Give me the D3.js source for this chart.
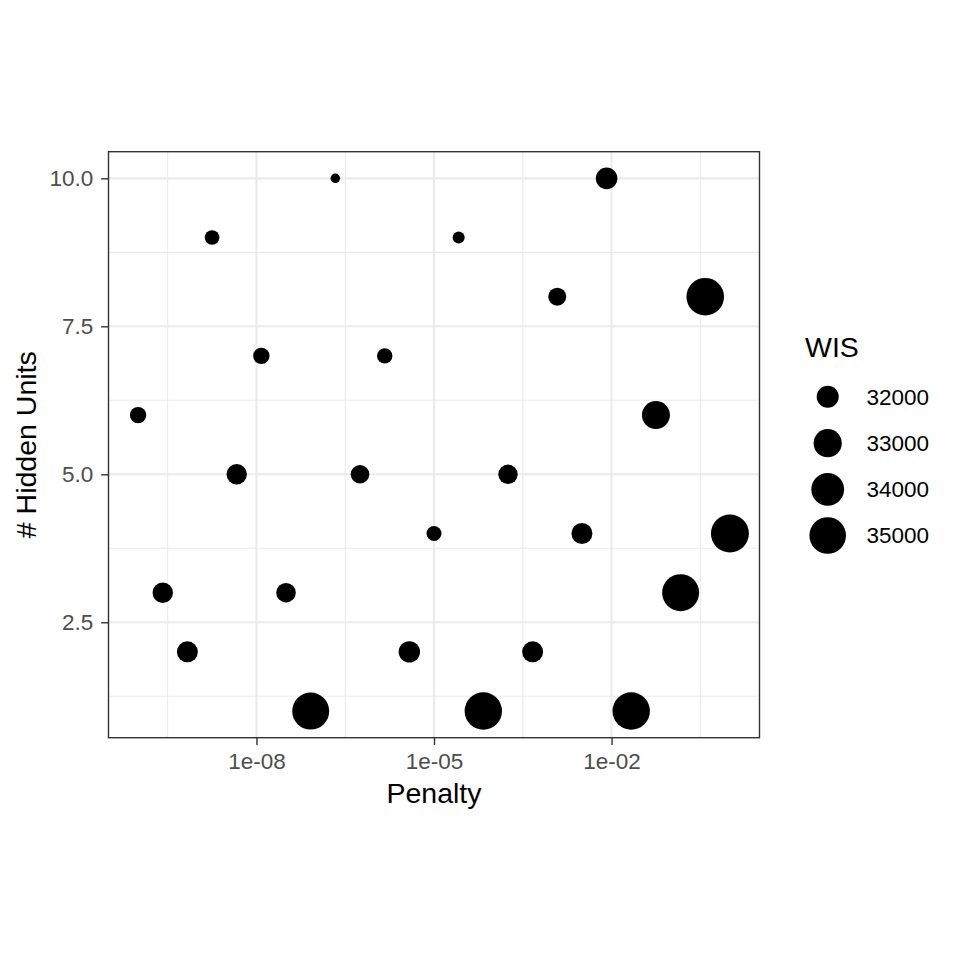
<!DOCTYPE html>
<html>
<head>
<meta charset="utf-8">
<script src="https://cdn.jsdelivr.net/npm/d3@7"></script>
<style>
  html, body { margin: 0; padding: 0; background: #fff; }
  svg { display: block; }
  text { font-family: "Liberation Sans", Arial, Helvetica, sans-serif; }
</style>
</head>
<body>
<svg id="chart" width="960" height="960"></svg>
<script>
// ---- data ----
const penalty = [1e-10, 2.61e-10, 6.81e-10, 1.78e-9, 4.64e-9, 1.21e-8, 3.16e-8, 8.25e-8,
  2.15e-7, 5.62e-7, 1.47e-6, 3.83e-6, 1e-5, 2.61e-5, 6.81e-5, 1.78e-4, 4.64e-4,
  1.21e-3, 3.16e-3, 8.25e-3, 2.15e-2, 5.62e-2, 0.147, 0.383, 1];
const hiddenUnits = [6, 3, 2, 9, 5, 7, 3, 1, 10, 5, 7, 2, 4, 9, 1, 5, 2, 8, 4, 10, 1, 6, 3, 8, 4];
const wis = [31435, 31804, 31875, 31323, 31804, 31435, 31717, 35114, 31187, 31618, 31368, 31923,
  31344, 31220, 35228, 31697, 31875, 31563, 31875, 31948, 35228, 32965, 35114, 35286, 35387];
const xTickValues = [1e-8, 1e-5, 1e-2];
const xTickLabels = ["1e-08", "1e-05", "1e-02"];
const xMinorValues = [Math.pow(10, -9.5), Math.pow(10, -6.5), Math.pow(10, -3.5), Math.pow(10, -0.5)];
const yTickValues = [2.5, 5.0, 7.5, 10.0];
const yTickLabels = ["2.5", "5.0", "7.5", "10.0"];
const yMinorValues = [1.25, 3.75, 6.25, 8.75];
const legendValues = [32000, 33000, 34000, 35000];
const legendLabels = ["32000", "33000", "34000", "35000"];

// ---- layout ----
const svg = d3.select("#chart");
const panel = { left: 108.5, right: 759.5, top: 151.7, bottom: 737.7 };

const x = d3.scaleLog().domain([Math.pow(10, -10.5), Math.pow(10, 0.5)]).range([panel.left, panel.right]);
const y = d3.scaleLinear().domain([0.55, 10.45]).range([panel.bottom, panel.top]);

// ggplot-like area size scale: size 1..6 -> radius
const wMin = d3.min(wis), wMax = d3.max(wis);
const sizeScale = d3.scaleSqrt().domain([0, wMax - wMin]).range([1, 6]).clamp(true);
function radius(v) {
  const s = 1 + 5 * Math.sqrt(Math.max(0, Math.min(1, (v - wMin) / (wMax - wMin))));
  return 2.845 * s + 1.9;
}

const g = svg.append("g");

g.append("rect").attr("x", panel.left).attr("y", panel.top)
  .attr("width", panel.right - panel.left).attr("height", panel.bottom - panel.top)
  .attr("fill", "#fff");

// minor grid
g.selectAll(".xminor").data(xMinorValues).enter().append("line")
  .attr("x1", d => x(d)).attr("x2", d => x(d)).attr("y1", panel.top).attr("y2", panel.bottom)
  .attr("stroke", "#EBEBEB").attr("stroke-width", 1.1);
g.selectAll(".yminor").data(yMinorValues).enter().append("line")
  .attr("y1", d => y(d)).attr("y2", d => y(d)).attr("x1", panel.left).attr("x2", panel.right)
  .attr("stroke", "#EBEBEB").attr("stroke-width", 1.1);
// major grid
g.selectAll(".xmajor").data(xTickValues).enter().append("line")
  .attr("x1", d => x(d)).attr("x2", d => x(d)).attr("y1", panel.top).attr("y2", panel.bottom)
  .attr("stroke", "#EBEBEB").attr("stroke-width", 2.1);
g.selectAll(".ymajor").data(yTickValues).enter().append("line")
  .attr("y1", d => y(d)).attr("y2", d => y(d)).attr("x1", panel.left).attr("x2", panel.right)
  .attr("stroke", "#EBEBEB").attr("stroke-width", 2.1);

// points
g.selectAll(".pt").data(penalty.map((p, i) => ({ p, h: hiddenUnits[i], w: wis[i] })))
  .enter().append("circle")
  .attr("cx", d => x(d.p)).attr("cy", d => y(d.h)).attr("r", d => radius(d.w))
  .attr("fill", "#000");

// panel border
g.append("rect").attr("x", panel.left).attr("y", panel.top)
  .attr("width", panel.right - panel.left).attr("height", panel.bottom - panel.top)
  .attr("fill", "none").attr("stroke", "#333333").attr("stroke-width", 1.4);

// axes
const xAxis = d3.axisBottom(x).tickValues(xTickValues)
  .tickFormat((d, i) => xTickLabels[i]).tickSizeInner(7.3).tickSizeOuter(0).tickPadding(8);
const xg = svg.append("g").attr("transform", `translate(0,${panel.bottom})`).call(xAxis);
xg.select(".domain").remove();
xg.selectAll(".tick line").attr("stroke", "#333333").attr("stroke-width", 1.4);
xg.selectAll(".tick text").attr("fill", "#4D4D4D").attr("font-size", 22.5)
  .attr("font-family", "Liberation Sans, Arial, sans-serif");

const yAxis = d3.axisLeft(y).tickValues(yTickValues)
  .tickFormat((d, i) => yTickLabels[i]).tickSizeInner(7.3).tickSizeOuter(0).tickPadding(8);
const yg = svg.append("g").attr("transform", `translate(${panel.left},0)`).call(yAxis);
yg.select(".domain").remove();
yg.selectAll(".tick line").attr("stroke", "#333333").attr("stroke-width", 1.4);
yg.selectAll(".tick text").attr("fill", "#4D4D4D").attr("font-size", 22.5)
  .attr("font-family", "Liberation Sans, Arial, sans-serif");

// axis titles
svg.append("text").attr("x", (panel.left + panel.right) / 2).attr("y", 803)
  .attr("text-anchor", "middle").attr("font-size", 28.5).attr("fill", "#000").text("Penalty");
svg.append("text")
  .attr("transform", `translate(36,${(panel.top + panel.bottom) / 2}) rotate(-90)`)
  .attr("text-anchor", "middle").attr("font-size", 28.5).attr("fill", "#000").text("# Hidden Units");

// legend
svg.append("text").attr("x", 805).attr("y", 357).attr("font-size", 28.5).attr("fill", "#000").text("WIS");
const legendY = [396.7, 443.2, 489.3, 535.5];
const lg = svg.selectAll(".leg").data(legendValues).enter().append("g");
lg.append("circle").attr("cx", 827.7).attr("cy", (d, i) => legendY[i]).attr("r", d => radius(d)).attr("fill", "#000");
lg.append("text").attr("x", 866.5).attr("y", (d, i) => legendY[i]).attr("dy", "0.35em")
  .attr("font-size", 22.5).attr("fill", "#000").text((d, i) => legendLabels[i]);
</script>
</body>
</html>
